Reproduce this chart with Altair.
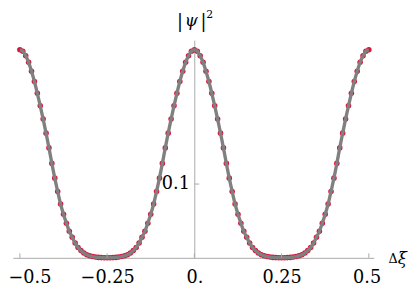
import altair as alt
import numpy as np
import pandas as pd

# |psi|^2, at dxi = -0.5 + k/120 (k = 0..120)
psi2 = [
    0.282, 0.280, 0.274, 0.265, 0.253, 0.239, 0.223, 0.206, 0.188, 0.169,
    0.149, 0.128, 0.108, 0.090, 0.073, 0.059, 0.047, 0.036, 0.028, 0.020,
    0.014, 0.0098, 0.0065, 0.0042, 0.0027, 0.0017, 0.0010, 0.0006, 0.0003, 0.0001,
    0.0,
    0.0001, 0.0003, 0.0006, 0.0010, 0.0017, 0.0027, 0.0042, 0.0065, 0.0098, 0.014,
    0.020, 0.028, 0.036, 0.047, 0.059, 0.073, 0.090, 0.108, 0.128, 0.149,
    0.169, 0.188, 0.206, 0.223, 0.239, 0.253, 0.265, 0.274, 0.280, 0.282,
    0.280, 0.274, 0.265, 0.253, 0.239, 0.223, 0.206, 0.188, 0.169, 0.149,
    0.128, 0.108, 0.090, 0.073, 0.059, 0.047, 0.036, 0.028, 0.020, 0.014,
    0.0098, 0.0065, 0.0042, 0.0027, 0.0017, 0.0010, 0.0006, 0.0003, 0.0001, 0.0,
    0.0001, 0.0003, 0.0006, 0.0010, 0.0017, 0.0027, 0.0042, 0.0065, 0.0098, 0.014,
    0.020, 0.028, 0.036, 0.047, 0.059, 0.073, 0.090, 0.108, 0.128, 0.149,
    0.169, 0.188, 0.206, 0.223, 0.239, 0.253, 0.265, 0.274, 0.280, 0.282,
]
dxi = list(np.linspace(-0.5, 0.5, len(psi2)))

x_tick_values = [-0.5, -0.25, 0.0, 0.25, 0.5]
x_tick_labels = ["\u22120.5", "\u22120.25", "0.", "0.25", "0.5"]
y_tick_values = [0.1]
y_tick_labels = ["0.1"]

df = pd.DataFrame({"dxi": dxi, "psi2": psi2})

W, H = 368, 222
FONT = "DejaVu Serif"
AX = "#a8a8a8"

xs = alt.Scale(domain=[-0.52, 0.514], nice=False, zero=False)
ys = alt.Scale(domain=[0, 0.295], nice=False, zero=False)

x_expr = " : ".join(
    f"datum.value == {v} ? '{l}'" for v, l in zip(x_tick_values, x_tick_labels)
) + " : ''"
y_expr = " : ".join(
    f"abs(datum.value - {v}) < 1e-9 ? '{l}'" for v, l in zip(y_tick_values, y_tick_labels)
) + " : ''"

x_axis = alt.Axis(
    values=x_tick_values, labelExpr=x_expr, ticks=False, grid=False,
    domainColor=AX, domainWidth=1, labelFont=FONT, labelFontSize=18,
    labelColor="black", labelPadding=11, labelFlush=8, labelFlushOffset=12,
    labelOverlap=False, labelBound=False, title="",
)
y_axis = alt.Axis(
    values=y_tick_values, labelExpr=y_expr, ticks=False, grid=False,
    domainColor=AX, domainWidth=1, labelFont=FONT, labelFontSize=18,
    labelColor="black", labelPadding=5, offset=-185, labelOverlap=False,
    labelBound=False, title="",
)

points = alt.Chart(df).mark_circle(size=32, color="#dc143c", opacity=1).encode(
    x=alt.X("dxi:Q", scale=xs, axis=x_axis),
    y=alt.Y("psi2:Q", scale=ys, axis=y_axis),
)
line = alt.Chart(df).mark_line(color="#808080", strokeWidth=3.4, interpolate="monotone").encode(
    x=alt.X("dxi:Q", scale=xs),
    y=alt.Y("psi2:Q", scale=ys),
)

xt = pd.DataFrame({"v": x_tick_values})
xticks = alt.Chart(xt).mark_rule(color=AX, strokeWidth=1).encode(
    x=alt.X("v:Q", scale=xs),
    y=alt.value(H),
    y2=alt.value(H - 4.5),
)
yt = pd.DataFrame({"v": y_tick_values, "z": [0.0]})
yticks = alt.Chart(yt).mark_rule(color=AX, strokeWidth=1).encode(
    y=alt.Y("v:Q", scale=ys),
    x=alt.X("z:Q", scale=xs),
    x2=alt.value(185 + 5),
)


def label(txt, x, y, size, style="normal", align="center"):
    return alt.Chart(pd.DataFrame({"t": [txt]})).mark_text(
        font=FONT, fontSize=size, fontStyle=style, align=align,
        baseline="alphabetic", color="black",
    ).encode(x=alt.value(x), y=alt.value(y), text="t:N")


titles = [
    label("|", 170.5, -13, 18),
    label("\u03c8", 182, -14, 17, "italic"),
    label("|", 194.3, -13, 18),
    label("2", 200.7, -22.3, 11),
    label("\u0394", 383, 227, 13, align="left"),
    label("\u03be", 392.5, 228.5, 17, "italic", align="left"),
]

chart = alt.layer(points, line, xticks, yticks, *titles).properties(
    width=W, height=H,
    autosize=alt.AutoSizeParams(type="none"),
    padding={"left": 5, "top": 30, "right": 37, "bottom": 30},
).configure_view(stroke=None)

chart.save("out.html", embed_options={"renderer": "svg", "actions": False})
